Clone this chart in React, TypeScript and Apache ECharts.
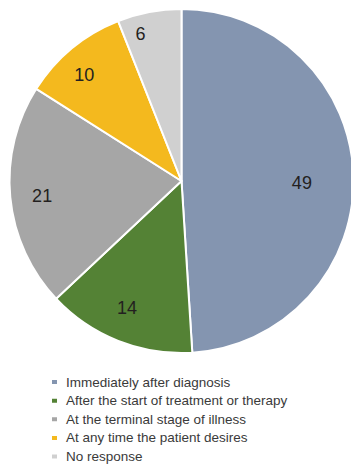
import React, { useEffect, useRef } from "react";
import * as echarts from "echarts";

// Survey answers: when should the patient be told
const categories = [
  "Immediately after diagnosis",
  "After the start of treatment or therapy",
  "At the terminal stage of illness",
  "At any time the patient desires",
  "No response",
];
const values = [49, 14, 21, 10, 6];
const colors = ["#8495B0", "#548235", "#A6A6A6", "#F4B91E", "#D0D0D0"];

// label placement inside each slice: fraction of radius and angular nudge (deg)
const labelRadius = [0.7, 0.805, 0.815, 0.835, 0.885];
const labelNudge = [2.6, 1.6, -0.8, -3.0, -4.8];

const CX = 181.5;
const CY = 181;
const R = 172;

export default function App() {
  const ref = useRef<HTMLDivElement>(null);

  useEffect(() => {
    if (!ref.current) return;
    const chart = echarts.init(ref.current, null, { renderer: "svg" });
    const total = values.reduce((a, b) => a + b, 0);
    const mids: number[] = [];
    let acc = 0;
    values.forEach((v) => {
      mids.push(((acc + v / 2) / total) * 360);
      acc += v;
    });

    chart.setOption({
      animation: false,
      color: colors,
      legend: {
        orient: "vertical",
        left: 50,
        top: 372.6,
        width: 300,
        height: 400,
        padding: 0,
        icon: "rect",
        itemWidth: 7,
        itemHeight: 6,
        itemGap: -0.4,
        selectedMode: false,
        textStyle: {
          fontFamily: "Liberation Sans, Arial, sans-serif",
          fontSize: 13.5,
          color: "#3a3a3a",
          lineHeight: 15,
          padding: [0, 0, 4, 3],
        },
        data: categories,
      },
      series: [
        {
          type: "pie",
          center: [CX, CY],
          radius: [0, R],
          startAngle: 90,
          clockwise: true,
          avoidLabelOverlap: false,
          itemStyle: { borderColor: "#ffffff", borderWidth: 2 },
          label: {
            show: true,
            position: "inside",
            formatter: "{c}",
            fontFamily: "Liberation Sans, Arial, sans-serif",
            fontSize: 18,
            color: "#231f20",
          },
          labelLine: { show: false },
          labelLayout: (params: any) => {
            const i = params.dataIndex;
            const a = ((mids[i] + labelNudge[i]) * Math.PI) / 180;
            const rr = labelRadius[i] * R;
            return {
              x: CX + rr * Math.sin(a),
              y: CY - rr * Math.cos(a),
              align: "center",
              verticalAlign: "middle",
            };
          },
          emphasis: { disabled: true },
          data: categories.map((name, i) => ({ name, value: values[i] })),
        },
      ],
    });
    return () => chart.dispose();
  }, []);

  return (
    <div
      ref={ref}
      style={{ position: "absolute", left: 0, top: 0, width: 351, height: 465, background: "#ffffff" }}
    />
  );
}
